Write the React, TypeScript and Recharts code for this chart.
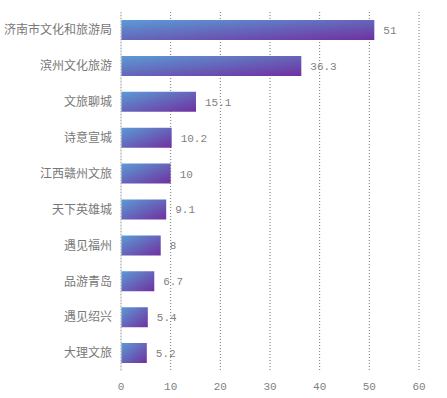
import React from 'react';
import { BarChart, Bar, XAxis, YAxis, CartesianGrid, LabelList } from 'recharts';

const categories = ['济南市文化和旅游局', '滨州文化旅游', '文旅聊城', '诗意宣城', '江西赣州文旅', '天下英雄城', '遇见福州', '品游青岛', '遇见绍兴', '大理文旅'];
const values = [51, 36.3, 15.1, 10.2, 10, 9.1, 8, 6.7, 5.4, 5.2];
const xTicks = [0, 10, 20, 30, 40, 50, 60];

const data = categories.map((name, i) => ({ name, value: values[i] }));

export default function App() {
  return (
    <div style={{ position: 'absolute', left: 0, top: 0, width: 447, height: 398, background: '#fff' }}>
      <BarChart
        width={447}
        height={398}
        data={data}
        layout="vertical"
        margin={{ top: 12, right: 28, bottom: 0, left: 0 }}
        barSize={20}
      >
        <defs>
          <linearGradient id="barGrad" x1="0" y1="0" x2="1" y2="1">
            <stop offset="0%" stopColor="#5b9bd5" />
            <stop offset="100%" stopColor="#7030a0" />
          </linearGradient>
        </defs>
        <CartesianGrid horizontal={false} vertical={true} stroke="#777" strokeDasharray="1 2" />
        <XAxis
          type="number"
          domain={[0, 60]}
          ticks={xTicks}
          axisLine={false}
          tickLine={false}
          tickMargin={5}
          height={27}
          tick={{ fill: '#7f7f7f', fontSize: 11, fontFamily: 'Liberation Mono' }}
        />
        <YAxis
          type="category"
          dataKey="name"
          width={121}
          axisLine={{ stroke: '#d9d9d9' }}
          tickLine={false}
          tickMargin={3}
          interval={0}
          tick={{ fill: '#777777', fontSize: 12, fontFamily: 'Noto Sans CJK SC' }}
        />
        <Bar dataKey="value" fill="url(#barGrad)" isAnimationActive={false}>
          <LabelList
            dataKey="value"
            position="right"
            offset={9}
            style={{ fill: '#7f7f7f', fontSize: 11, fontFamily: 'Liberation Mono' }}
          />
        </Bar>
      </BarChart>
    </div>
  );
}
